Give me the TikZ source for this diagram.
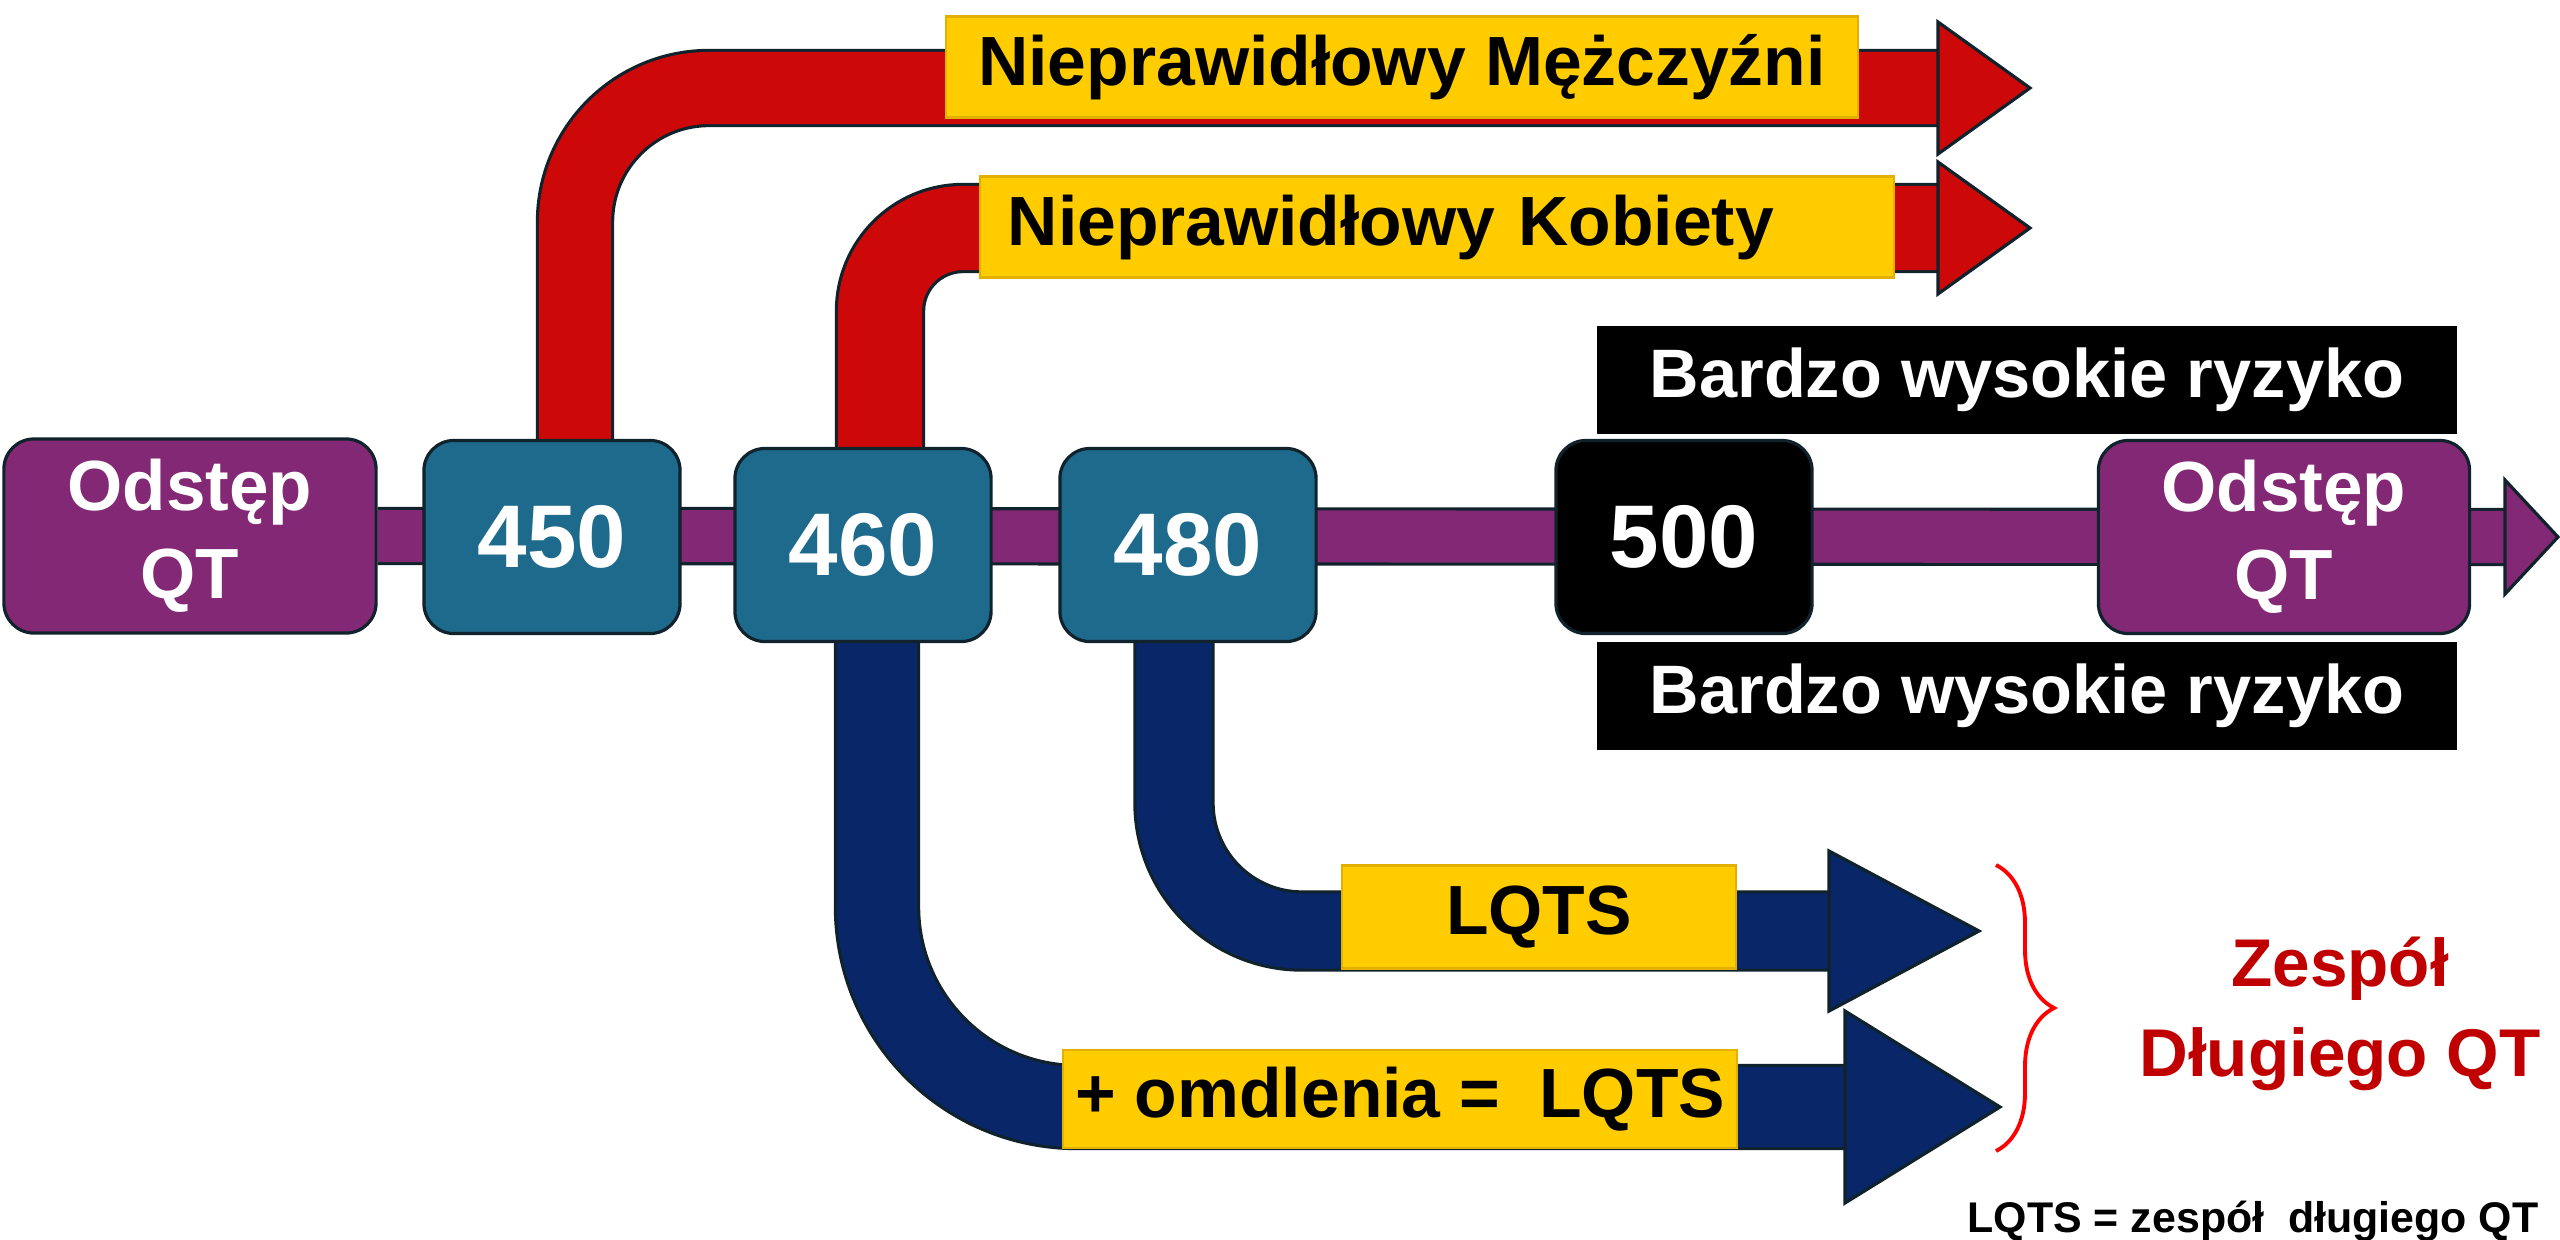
\documentclass[tikz,border=0pt]{standalone}
\usepackage{fontspec}
\setmainfont{Liberation Sans}
\usepackage{tikz}
\usetikzlibrary{calc}
\usetikzlibrary{decorations.pathreplacing}
\definecolor{qtpurple}{RGB}{131,40,116}
\definecolor{numteal}{RGB}{30,106,140}
\definecolor{bandred}{RGB}{204,8,8}
\definecolor{bandnavy}{RGB}{8,38,104}
\definecolor{labyellow}{RGB}{255,204,0}
\definecolor{labedge}{RGB}{226,176,0}
\definecolor{edgedark}{RGB}{16,34,44}
\definecolor{synred}{RGB}{192,0,0}
\pgfdeclarelayer{back}
\pgfsetlayers{back,main}
\tikzset{
    qtbox/.style={
        rounded corners=0.3cm,
        draw=edgedark, line width=0.9pt,
        fill=qtpurple, text=white, align=center,
        font=\bfseries\fontsize{20.2}{25}\selectfont,
        minimum width=3.72cm, minimum height=1.94cm
    },
    numbox/.style={
        rounded corners=0.3cm,
        draw=edgedark, line width=0.9pt,
        fill=numteal, text=white,
        font=\bfseries\fontsize{25.3}{30}\selectfont,
        minimum width=2.56cm, minimum height=1.93cm
    },
    riskbox/.style={
        fill=black, text=white,
        font=\bfseries\fontsize{19.5}{24}\selectfont,
        minimum width=8.6cm, minimum height=1.07cm
    },
    % żółte etykiety na strzałkach
    labbox/.style={
        draw=labedge, line width=0.6pt,
        fill=labyellow, text=black,
        font=\bfseries\fontsize{19.8}{24}\selectfont,
        minimum height=1.01cm
    },
    band/.style={
        draw=edgedark, line width=0.9pt,
        double=#1
    },
    head/.style={
        draw=edgedark, line width=0.9pt,
        fill=#1, line join=miter
    }
}
\begin{document}
\begin{tikzpicture}[x=0.01cm,y=-0.01cm]
   \useasboundingbox (0,0) rectangle (2560,1239);
   \path
    (2510,537) coordinate (axisEnd)
    (2558,537) coordinate (axisTip)
    (1945,88) coordinate (endM)
    (2030,88) coordinate (tipM)
    (1945,228) coordinate (endK)
    (2030,228) coordinate (tipK)
    (1838,931) coordinate (endL)
    (1979,931) coordinate (tipL)
    (1852,1107) coordinate (endO)
    (2000,1107) coordinate (tipO)
    (1996,865) coordinate (braceT)
    (1996,1151) coordinate (braceB)
    ;

   % oś QT
   \node[qtbox] (qtL) at (190,536) {Odstęp\\QT};
   \node[numbox] (n450) at (552,537) {450};
   \node[numbox] (n460) at (863,545) {460};
   \node[numbox] (n480) at (1188,545) {480};
   \node[numbox, fill=black] (n500) at (1684,537) {500};
   \node[qtbox, minimum width=3.71cm, minimum height=1.93cm] (qtR) at (2284,537) {Odstęp\\QT};

   % czarne pola
   \node[riskbox] (riskT) at (2027,380) {Bardzo wysokie ryzyko};
   \node[riskbox] (riskB) at (2027,696) {Bardzo wysokie ryzyko};

   % etykiety
   \node[labbox, minimum width=9.11cm] (labM) at (1402,67) {Nieprawidłowy Mężczyźni};
   \node[labbox, text width=8.58cm, inner xsep=0.28cm, align=left] (labK) at (1437,227) {Nieprawidłowy Kobiety};
   \node[labbox, minimum width=3.94cm, minimum height=1.03cm] (labL) at (1539,917) {LQTS};
   \node[labbox, minimum width=6.72cm, minimum height=0.98cm] (labO) at (1400,1099) {+ omdlenia =\ \ LQTS};

   % klamra
   \draw[red, line width=1.1pt, decorate, decoration={brace, amplitude=0.58cm}] (braceT) -- (braceB);
   \node[text=synred, align=center, font=\bfseries\fontsize{19.2}{25.6}\selectfont] (syn) at (2340,1014) {Zespół\\Długiego QT};
   \node[font=\bfseries\fontsize{12.2}{14}\selectfont] (note) at (2253,1221) {LQTS = zespół\ \ długiego QT};

   \begin{pgfonlayer}{back}
   % fioletowa oś
   \draw[band=qtpurple, double distance=0.52cm] (qtL.east) -- (axisEnd);
   \filldraw[head=qtpurple] (axisTip) -- ++(-53,-57) -- ++(0,114) -- cycle;
   % czerwone w górę
   \draw[band=bandred, double distance=0.72cm, rounded corners=1.34cm] ([xshift=0.23cm]n450.north) |- (endM);
   \filldraw[head=bandred] (tipM) -- ++(-92,-66) -- ++(0,132) -- cycle;
   \draw[band=bandred, double distance=0.84cm, rounded corners=0.83cm] ([xshift=0.17cm]n460.north) |- (endK);
   \filldraw[head=bandred] (tipK) -- ++(-92,-66) -- ++(0,132) -- cycle;
   % granatowe w dół
   \draw[band=bandnavy, double distance=0.75cm, rounded corners=1.28cm] ([xshift=-0.14cm]n480.south) |- (endL);
   \filldraw[head=bandnavy] (tipL) -- ++(-150,-80) -- ++(0,160) -- cycle;
   \draw[band=bandnavy, double distance=0.8cm, rounded corners=2cm] ([xshift=0.14cm]n460.south) |- (endO);
   \filldraw[head=bandnavy] (tipO) -- ++(-155,-96) -- ++(0,192) -- cycle;
   \end{pgfonlayer}
\end{tikzpicture}
\end{document}
